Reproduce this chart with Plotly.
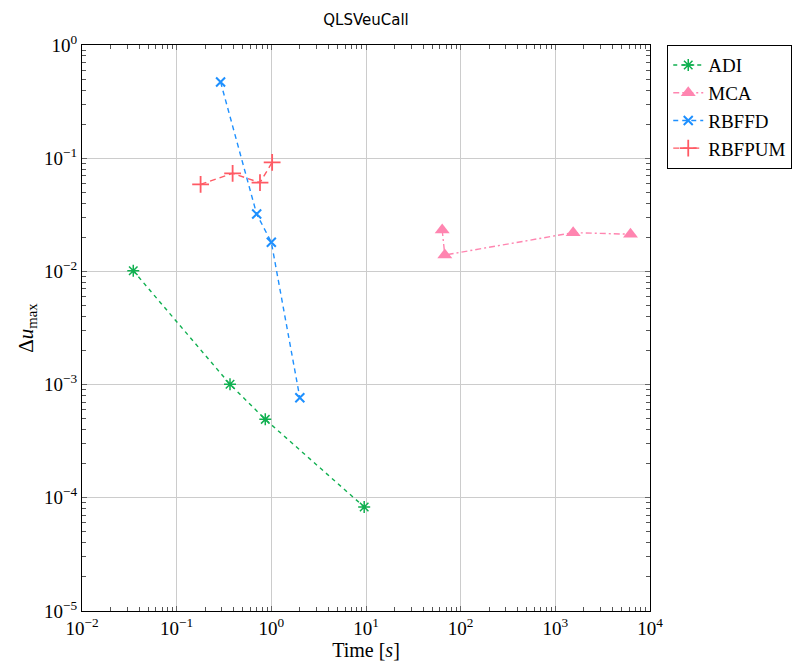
import plotly.graph_objects as go

adi_x = [0.0348, 0.366, 0.863, 9.57]
adi_y = [0.01014, 1.006e-3, 4.93e-4, 8.3e-5]

mca_x = [63.8, 68.0, 1543, 6220]
mca_y = [0.0232, 0.01396, 0.0220, 0.0213]

rbffd_x = [0.291, 0.70, 1.0, 2.0]
rbffd_y = [0.471, 0.0321, 0.0181, 7.66e-4]

rbfpum_x = [0.179, 0.39, 0.759, 1.02]
rbfpum_y = [0.0588, 0.0735, 0.0608, 0.092]

x_tickvals = [1e-2, 1e-1, 1e0, 1e1, 1e2, 1e3, 1e4]
x_ticktext = ["10<sup>\u22122</sup>", "10<sup>\u22121</sup>", "10<sup>0</sup>", "10<sup>1</sup>",
              "10<sup>2</sup>", "10<sup>3</sup>", "10<sup>4</sup>"]
y_tickvals = [1e-5, 1e-4, 1e-3, 1e-2, 1e-1, 1e0]
y_ticktext = ["10<sup>\u22125</sup>", "10<sup>\u22124</sup>", "10<sup>\u22123</sup>",
              "10<sup>\u22122</sup>", "10<sup>\u22121</sup>", "10<sup>0</sup>"]

x_minor = [m * 10.0 ** k for k in range(-2, 4) for m in range(2, 10)]
y_minor = [m * 10.0 ** k for k in range(-5, 0) for m in range(2, 10)]

serif = "Liberation Serif, DejaVu Serif, serif"

fig = go.Figure()
fig.add_trace(go.Scatter(x=adi_x, y=adi_y, name="ADI", mode="lines+markers",
                         line=dict(color="#10b050", dash="4px,4px", width=1.4),
                         marker=dict(symbol="asterisk-open", size=10, color="#10b050",
                                     line=dict(color="#10b050", width=1.5))))
fig.add_trace(go.Scatter(x=mca_x, y=mca_y, name="MCA", mode="lines+markers",
                         line=dict(color="#ff85b0", dash="6px,3px,2px,3px", width=1.4),
                         marker=dict(symbol="triangle-up", size=13, color="#ff85b0")))
fig.add_trace(go.Scatter(x=rbffd_x, y=rbffd_y, name="RBFFD", mode="lines+markers",
                         line=dict(color="#1e90ff", dash="5px,4px", width=1.4),
                         marker=dict(symbol="x-thin-open", size=9, color="#1e90ff",
                                     line=dict(color="#1e90ff", width=2))))
fig.add_trace(go.Scatter(x=rbfpum_x, y=rbfpum_y, name="RBFPUM", mode="lines+markers",
                         line=dict(color="#ff5a64", dash="6px,4px", width=1.4),
                         marker=dict(symbol="cross-thin-open", size=12, color="#ff5a64",
                                     line=dict(color="#ff5a64", width=1.8))))

axis_common = dict(
    type="log", showline=True, linecolor="black", linewidth=1.2, mirror="allticks",
    ticks="inside", ticklen=5, tickcolor="#666", showgrid=True, gridcolor="#cccccc",
    gridwidth=1, zeroline=False, automargin=False,
    tickfont=dict(family=serif, size=19, color="black"),
)

fig.update_layout(
    width=796, height=663,
    margin=dict(l=74, r=154, t=37, b=60),
    paper_bgcolor="white", plot_bgcolor="white",
    title=dict(text="QLSVeuCall", x=(74 + 642) / 2 / 796, xanchor="center", y=1 - 12 / 663,
               yanchor="middle", font=dict(family="DejaVu Sans, sans-serif", size=15, color="black")),
    xaxis=dict(axis_common, range=[-2, 4], tickvals=x_tickvals, ticktext=x_ticktext,
               minor=dict(ticks="inside", ticklen=4, tickcolor="#555", tickwidth=1,
                          showgrid=False, tickvals=x_minor),
               title=dict(text="Time [<i>s</i>]", font=dict(family=serif, size=20, color="black"),
                          standoff=2)),
    yaxis=dict(axis_common, range=[-5, 0], tickvals=y_tickvals, ticktext=y_ticktext,
               minor=dict(ticks="inside", ticklen=4, tickcolor="#555", tickwidth=1,
                          showgrid=False, tickvals=y_minor),
               title=dict(text="\u0394<i>u</i><sub>max</sub>", font=dict(family=serif, size=21, color="black"),
                          standoff=4)),
    legend=dict(x=1.03, y=1.0, xanchor="left", yanchor="top", bordercolor="black",
                borderwidth=1.2, bgcolor="white",
                font=dict(family=serif, size=19, color="black"),
                tracegroupgap=0, itemwidth=30),
    showlegend=True,
)

fig.write_html("out.html")
